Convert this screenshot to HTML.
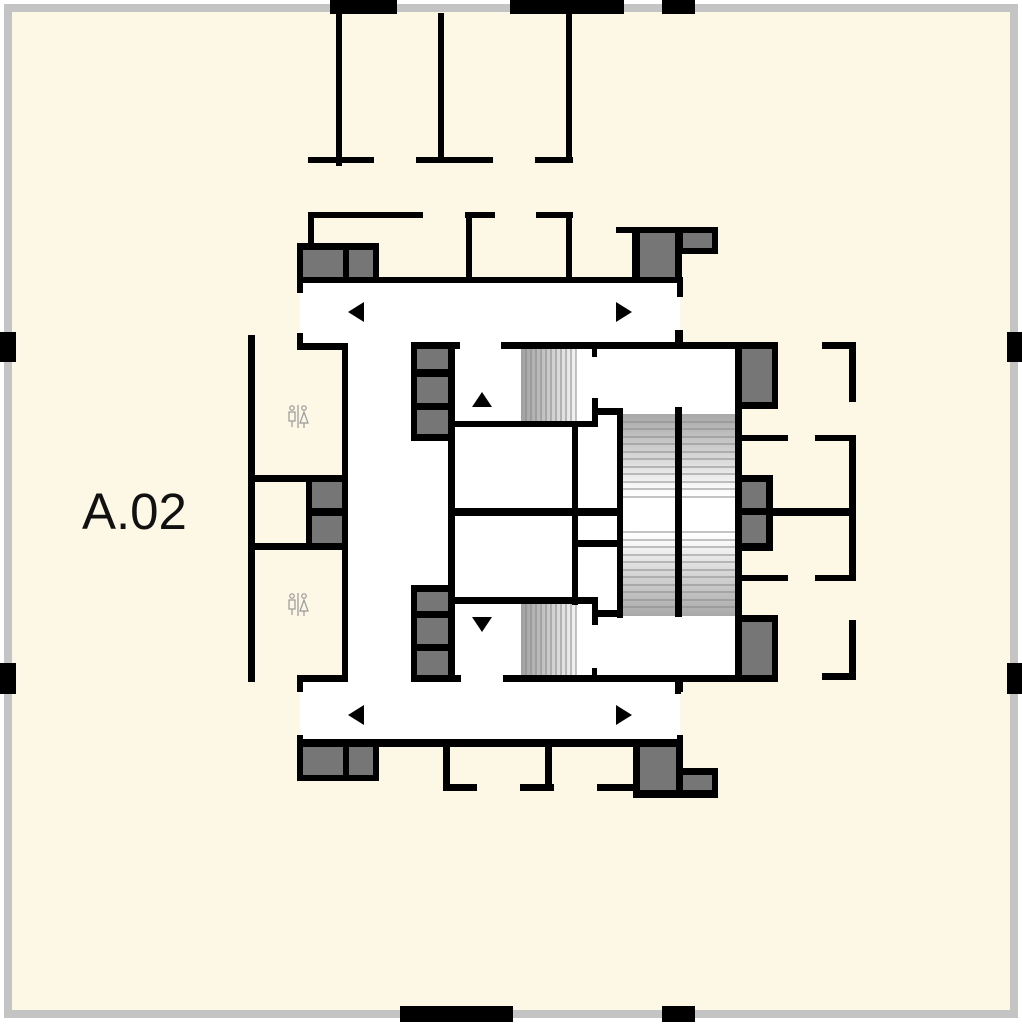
<!DOCTYPE html>
<html><head><meta charset="utf-8"><style>
html,body{margin:0;padding:0;background:#fff;}
svg{display:block;}
</style></head><body>
<svg width="1022" height="1024" viewBox="0 0 1022 1024" xmlns="http://www.w3.org/2000/svg">
<defs>
<linearGradient id="gTop" x1="0" y1="0" x2="0" y2="1"><stop offset="0" stop-color="#a8a8a8"/><stop offset="0.9" stop-color="#fafafa"/><stop offset="1" stop-color="#fff"/></linearGradient>
<linearGradient id="gBot" x1="0" y1="1" x2="0" y2="0"><stop offset="0" stop-color="#a8a8a8"/><stop offset="0.9" stop-color="#fafafa"/><stop offset="1" stop-color="#fff"/></linearGradient>
<linearGradient id="gSide" x1="0" y1="0" x2="1" y2="0"><stop offset="0" stop-color="#a0a0a0"/><stop offset="1" stop-color="#f4f4f4"/></linearGradient>
</defs>
<rect x="0" y="0" width="1022" height="1024" fill="#fff"/>
<rect x="8" y="8" width="1006" height="1006" fill="#fdf7e6" stroke="#c4c4c4" stroke-width="8"/>

<g fill="#fff">
<rect x="300" y="283" width="380" height="61"/>
<rect x="346" y="283" width="66" height="460"/>
<rect x="410" y="343" width="330" height="338"/>
<rect x="300" y="680" width="380" height="63"/>
</g>

<rect x="623" y="414" width="112" height="84" fill="url(#gTop)"/>
<rect x="623" y="532" width="112" height="84" fill="url(#gBot)"/>
<g stroke="#888" stroke-width="1">
<line x1="623" y1="422" x2="735" y2="422"/><line x1="623" y1="429" x2="735" y2="429"/><line x1="623" y1="437" x2="735" y2="437"/><line x1="623" y1="444" x2="735" y2="444"/><line x1="623" y1="452" x2="735" y2="452"/><line x1="623" y1="459" x2="735" y2="459"/><line x1="623" y1="467" x2="735" y2="467"/><line x1="623" y1="474" x2="735" y2="474"/><line x1="623" y1="482" x2="735" y2="482"/><line x1="623" y1="489" x2="735" y2="489"/><line x1="623" y1="497" x2="735" y2="497"/>
<line x1="623" y1="532" x2="735" y2="532"/><line x1="623" y1="540" x2="735" y2="540"/><line x1="623" y1="547" x2="735" y2="547"/><line x1="623" y1="555" x2="735" y2="555"/><line x1="623" y1="562" x2="735" y2="562"/><line x1="623" y1="570" x2="735" y2="570"/><line x1="623" y1="577" x2="735" y2="577"/><line x1="623" y1="585" x2="735" y2="585"/><line x1="623" y1="592" x2="735" y2="592"/><line x1="623" y1="600" x2="735" y2="600"/><line x1="623" y1="607" x2="735" y2="607"/>
</g>
<rect x="521" y="349" width="55" height="72" fill="url(#gSide)"/>
<rect x="521" y="604" width="55" height="71" fill="url(#gSide)"/>
<g stroke="#888" stroke-width="1">
<line x1="526" y1="349" x2="526" y2="421"/><line x1="531" y1="349" x2="531" y2="421"/><line x1="536" y1="349" x2="536" y2="421"/><line x1="541" y1="349" x2="541" y2="421"/><line x1="546" y1="349" x2="546" y2="421"/><line x1="551" y1="349" x2="551" y2="421"/><line x1="556" y1="349" x2="556" y2="421"/><line x1="561" y1="349" x2="561" y2="421"/><line x1="566" y1="349" x2="566" y2="421"/><line x1="571" y1="349" x2="571" y2="421"/><line x1="576" y1="349" x2="576" y2="421"/>
<line x1="526" y1="604" x2="526" y2="675"/><line x1="531" y1="604" x2="531" y2="675"/><line x1="536" y1="604" x2="536" y2="675"/><line x1="541" y1="604" x2="541" y2="675"/><line x1="546" y1="604" x2="546" y2="675"/><line x1="551" y1="604" x2="551" y2="675"/><line x1="556" y1="604" x2="556" y2="675"/><line x1="561" y1="604" x2="561" y2="675"/><line x1="566" y1="604" x2="566" y2="675"/><line x1="571" y1="604" x2="571" y2="675"/><line x1="576" y1="604" x2="576" y2="675"/>
</g>

<g fill="#000">
<rect x="330" y="0" width="67" height="14"/><rect x="510" y="0" width="114" height="14"/><rect x="662" y="0" width="33" height="14"/>
<rect x="400" y="1006" width="113" height="16"/><rect x="662" y="1006" width="33" height="16"/>
<rect x="0" y="332" width="16" height="30"/><rect x="0" y="663" width="16" height="31"/>
<rect x="1007" y="332" width="15" height="30"/><rect x="1007" y="663" width="15" height="31"/>

<rect x="336" y="14" width="6" height="152"/><rect x="438" y="13" width="6" height="148"/><rect x="566" y="14" width="6" height="148"/>
<rect x="308" y="157" width="66" height="6"/><rect x="416" y="157" width="77" height="6"/><rect x="535" y="157" width="38" height="6"/>
<rect x="308" y="212" width="115" height="6"/><rect x="465" y="212" width="30" height="6"/><rect x="536" y="212" width="37" height="6"/>
<rect x="308" y="212" width="6" height="34"/><rect x="466" y="212" width="6" height="68"/><rect x="566" y="212" width="6" height="68"/>
<rect x="616" y="227" width="20" height="6"/>
<rect x="297" y="243" width="82" height="40"/>
<rect x="632" y="227" width="50" height="56"/><rect x="680" y="227" width="38" height="27"/>
<rect x="297" y="277" width="386" height="6"/>
<rect x="297" y="277" width="6" height="16"/><rect x="677" y="277" width="6" height="20"/>
<rect x="297" y="333" width="6" height="17"/><rect x="297" y="343" width="51" height="7"/>
<rect x="677" y="330" width="6" height="16"/>

<rect x="248" y="335" width="7" height="347"/>
<rect x="342" y="343" width="6" height="339"/>
<rect x="255" y="475" width="93" height="7"/><rect x="255" y="543" width="93" height="7"/>
<rect x="306" y="475" width="42" height="75"/>
<rect x="297" y="675" width="51" height="7"/><rect x="297" y="675" width="6" height="17"/>

<rect x="411" y="342" width="44" height="99"/>
<rect x="411" y="585" width="44" height="97"/>
<rect x="411" y="342" width="49" height="7"/><rect x="501" y="342" width="277" height="7"/>
<rect x="411" y="675" width="50" height="7"/><rect x="503" y="675" width="275" height="7"/>
<rect x="448" y="342" width="7" height="340"/>
<rect x="735" y="342" width="7" height="340"/>
<rect x="735" y="342" width="43" height="67"/>
<rect x="735" y="475" width="38" height="76"/>
<rect x="735" y="615" width="43" height="67"/>
<rect x="455" y="421" width="143" height="6"/>
<rect x="455" y="508" width="168" height="8"/>
<rect x="455" y="597" width="143" height="7"/>
<rect x="572" y="421" width="6" height="184"/>
<rect x="592" y="398" width="6" height="29"/><rect x="592" y="597" width="6" height="28"/>
<rect x="592" y="408" width="31" height="7"/><rect x="592" y="610" width="31" height="7"/>
<rect x="617" y="408" width="6" height="210"/>
<rect x="578" y="540" width="45" height="7"/>
<rect x="675" y="407" width="7" height="210"/>
<rect x="592" y="349" width="5" height="8"/><rect x="592" y="668" width="5" height="8"/>
<rect x="675" y="330" width="6" height="14"/><rect x="675" y="680" width="6" height="14"/>

<rect x="822" y="342" width="34" height="7"/><rect x="849" y="342" width="7" height="60"/>
<rect x="742" y="435" width="46" height="6"/><rect x="815" y="435" width="41" height="6"/>
<rect x="849" y="435" width="7" height="146"/>
<rect x="773" y="508" width="83" height="8"/>
<rect x="742" y="575" width="46" height="6"/><rect x="815" y="575" width="41" height="6"/>
<rect x="849" y="620" width="7" height="60"/><rect x="822" y="673" width="34" height="7"/>

<rect x="297" y="739" width="386" height="8"/>
<rect x="677" y="680" width="6" height="12"/><rect x="677" y="735" width="6" height="12"/>
<rect x="297" y="735" width="6" height="12"/>
<rect x="297" y="739" width="82" height="42"/>
<rect x="443" y="739" width="7" height="52"/><rect x="443" y="784" width="34" height="7"/>
<rect x="545" y="739" width="7" height="52"/><rect x="520" y="784" width="34" height="7"/>
<rect x="597" y="784" width="36" height="7"/>
<rect x="633" y="739" width="50" height="59"/><rect x="680" y="768" width="38" height="30"/>

<polygon points="348,312 364,302 364,322"/>
<polygon points="632,312 616,302 616,322"/>
<polygon points="348,715 364,705 364,725"/>
<polygon points="632,715 616,705 616,725"/>
<polygon points="482,392 472,407 492,407"/>
<polygon points="482,632 472,617 492,617"/>
</g>

<g fill="#767676">
<rect x="303" y="250" width="40" height="27"/><rect x="349" y="250" width="24" height="27"/>
<rect x="640" y="233" width="35" height="44"/><rect x="683" y="233" width="29" height="15"/>
<rect x="417" y="349" width="31" height="20"/><rect x="417" y="377" width="31" height="26"/><rect x="417" y="410" width="31" height="24"/>
<rect x="417" y="592" width="31" height="19"/><rect x="417" y="618" width="31" height="26"/><rect x="417" y="651" width="31" height="24"/>
<rect x="742" y="349" width="30" height="53"/>
<rect x="742" y="482" width="24" height="26"/><rect x="742" y="515" width="24" height="28"/>
<rect x="742" y="622" width="30" height="53"/>
<rect x="312" y="482" width="30" height="26"/><rect x="312" y="516" width="30" height="27"/>
<rect x="303" y="747" width="40" height="28"/><rect x="349" y="747" width="24" height="28"/>
<rect x="640" y="747" width="36" height="43"/><rect x="683" y="775" width="29" height="15"/>
</g>

<g fill="none" stroke="#999" stroke-width="1.2">
<circle cx="292" cy="408" r="2.2"/><rect x="289" y="412" width="6" height="9"/><line x1="292" y1="421" x2="292" y2="427"/><line x1="298" y1="405" x2="298" y2="428"/><circle cx="304" cy="408" r="2.2"/><polygon points="304,412 300,423 308,423"/><line x1="304" y1="423" x2="304" y2="428"/>
<circle cx="292" cy="596" r="2.2"/><rect x="289" y="600" width="6" height="9"/><line x1="292" y1="609" x2="292" y2="615"/><line x1="298" y1="593" x2="298" y2="616"/><circle cx="304" cy="596" r="2.2"/><polygon points="304,600 300,611 308,611"/><line x1="304" y1="611" x2="304" y2="616"/>
</g>

<text x="82" y="529" font-family="Liberation Sans, sans-serif" font-size="51" fill="#111">A.02</text>
</svg>
</body></html>
